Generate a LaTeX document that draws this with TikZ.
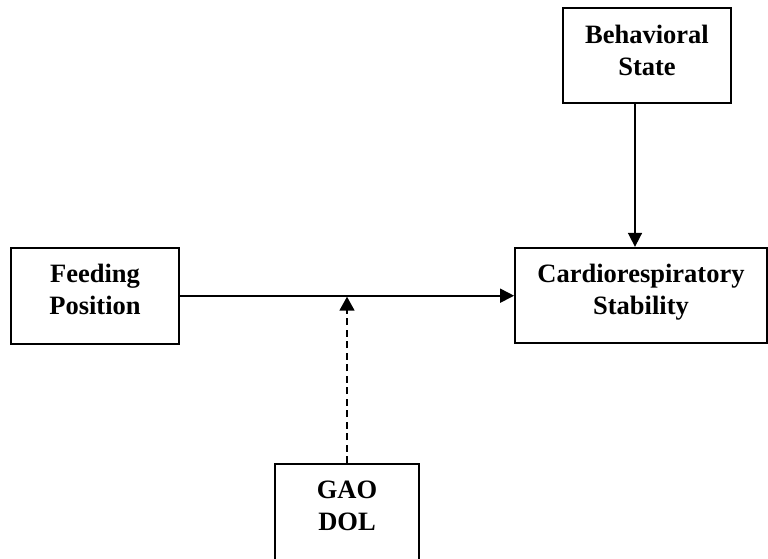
\documentclass[tikz,border=0pt]{standalone}
\usepackage{fontspec}
\setmainfont{Liberation Serif}
\usetikzlibrary{arrows.meta}
\begin{document}
\begin{tikzpicture}[x=1pt,y=-1pt,
  boxsty/.style={draw, line width=1.8pt, rectangle, inner sep=0pt},
  txt/.style={inner sep=0pt, align=center, anchor=north,
    font=\fontsize{26.5pt}{32pt}\selectfont\bfseries},
  arr/.style={line width=1.7pt, -{Triangle[length=14pt,width=14pt]}},
  dasharr/.style={line width=1.7pt, dash pattern=on 7pt off 4.5pt, -{Triangle[length=14pt,width=15pt]}}]
\useasboundingbox (0,0) rectangle (768,559);
% boxes
\node[boxsty, minimum width=168pt, minimum height=95.5pt] (beh) at (647,55.5) {};
\node[boxsty, minimum width=168pt, minimum height=96pt] (feed) at (95,295.7) {};
\node[boxsty, minimum width=252pt, minimum height=95.5pt] (car) at (641,295.5) {};
\node[boxsty, minimum width=144pt, minimum height=100pt] (gao) at (347,514) {};
% texts
\node[txt] (behtxt) at ([yshift=-18pt]beh.north) {Behavioral\\State};
\node[txt] (feedtxt) at ([yshift=-17.5pt]feed.north) {Feeding\\Position};
\node[txt] (cartxt) at ([yshift=-17.5pt]car.north) {Cardiorespiratory\\Stability};
\node[txt] (gaotxt) at ([yshift=-17.5pt]gao.north) {GAO\\DOL};
% connectors
\coordinate (vx) at (635,0);
\draw[arr] (beh.south -| vx) -- (car.north -| vx);
\draw[arr] (feed.east) -- (car.west |- feed.east);
\draw[dasharr] (gao.north) -- ([yshift=-1pt]gao.north |- feed.east);
\end{tikzpicture}
\end{document}
